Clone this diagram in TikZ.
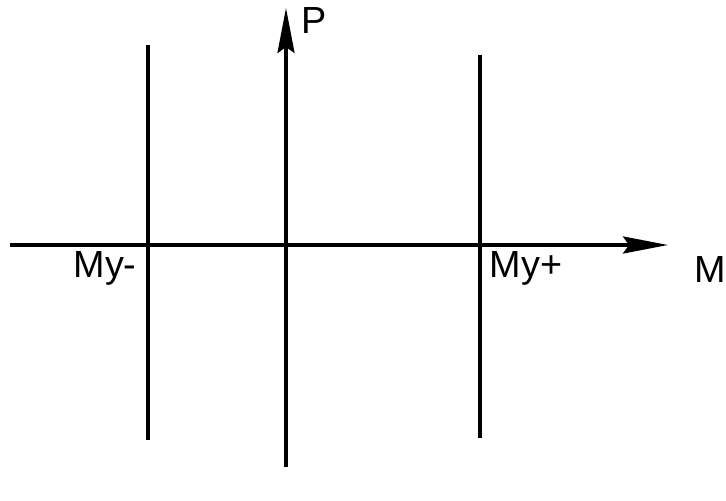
\documentclass[tikz,border=0pt]{standalone}
\usepackage{fontspec}
\setmainfont{Liberation Sans}
\usetikzlibrary{arrows.meta,positioning}
\tikzset{
  axarr/.style={-{Stealth[length=0.9cm, width=0.34cm, inset=0.12cm]}, line width=2pt},
  lim/.style={line width=2pt},
  albl/.style={font=\fontsize{21.5}{24}\selectfont, inner sep=0pt},
}

\begin{document}
\begin{tikzpicture}[x=0.02cm, y=-0.02cm]
  \useasboundingbox (0,0) rectangle (726,500);
  % axes
  \coordinate (m0) at (10,245);   \coordinate (m1) at (668,245);
  \coordinate (p0) at (286,467);  \coordinate (p1) at (286,8);
  \draw[axarr] (m0) -- (m1);
  \draw[axarr] (p0) -- (p1);
  % limit lines
  \coordinate (ln0) at (148,45);  \coordinate (ln1) at (148,440);
  \coordinate (lp0) at (480,55);  \coordinate (lp1) at (480,438);
  \draw[lim] (ln0) -- (ln1);
  \draw[lim] (lp0) -- (lp1);
  % labels
  \node[albl] (pl) at (314,21) {P};
  \node[albl] (ml) at (710,270) {M};
  \node[albl] (myn) at (105,268) {My-};
  \node[albl] (myp) at (526,268) {My+};
\end{tikzpicture}
\end{document}
